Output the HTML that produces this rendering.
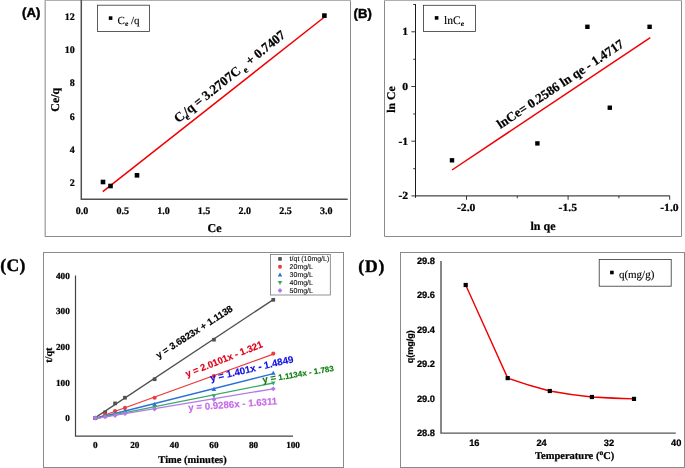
<!DOCTYPE html><html><head><meta charset="utf-8"><title>fig</title><style>html,body{margin:0;padding:0;background:#fff}svg{display:block;will-change:transform}text{text-rendering:geometricPrecision}.s{font-family:"Liberation Serif",serif}.a{font-family:"Liberation Sans",sans-serif}.b{font-weight:bold}</style></head><body>
<svg width="685" height="468" viewBox="0 0 685 468">
<rect width="685" height="468" fill="#fff"/>
<path d="M45.2 0V236.5" fill="none" stroke="#a0a0a0" stroke-width="1.3"/><path d="M45 236.5H350.5V0" fill="none" stroke="#8a8a8a" stroke-width="1"/>
<rect x="45" y="0" width="306" height="1" fill="#b0b0b0"/>
<text x="22.1" y="16.7" class="a b" font-size="13.1" text-anchor="start" fill="#000" stroke="#000" stroke-width="0.45">(A)</text>
<path d="M81.3 0V199.3H347.7" fill="none" stroke="#505050" stroke-width="1.5"/>
<text x="74.8" y="186.3" class="s b" font-size="10" text-anchor="end" fill="#000"  stroke="#000" stroke-width="0.24">2</text>
<text x="74.8" y="153.0" class="s b" font-size="10" text-anchor="end" fill="#000"  stroke="#000" stroke-width="0.24">4</text>
<text x="74.8" y="119.7" class="s b" font-size="10" text-anchor="end" fill="#000"  stroke="#000" stroke-width="0.24">6</text>
<text x="74.8" y="86.4" class="s b" font-size="10" text-anchor="end" fill="#000"  stroke="#000" stroke-width="0.24">8</text>
<text x="74.8" y="53.10000000000001" class="s b" font-size="10" text-anchor="end" fill="#000"  stroke="#000" stroke-width="0.24">10</text>
<text x="74.8" y="19.8" class="s b" font-size="10" text-anchor="end" fill="#000"  stroke="#000" stroke-width="0.24">12</text>
<text x="82.0" y="214.4" class="s b" font-size="10" text-anchor="middle" fill="#000"  stroke="#000" stroke-width="0.24">0.0</text>
<text x="122.7" y="214.4" class="s b" font-size="10" text-anchor="middle" fill="#000"  stroke="#000" stroke-width="0.24">0.5</text>
<text x="163.4" y="214.4" class="s b" font-size="10" text-anchor="middle" fill="#000"  stroke="#000" stroke-width="0.24">1.0</text>
<text x="204.10000000000002" y="214.4" class="s b" font-size="10" text-anchor="middle" fill="#000"  stroke="#000" stroke-width="0.24">1.5</text>
<text x="244.8" y="214.4" class="s b" font-size="10" text-anchor="middle" fill="#000"  stroke="#000" stroke-width="0.24">2.0</text>
<text x="285.5" y="214.4" class="s b" font-size="10" text-anchor="middle" fill="#000"  stroke="#000" stroke-width="0.24">2.5</text>
<text x="326.20000000000005" y="214.4" class="s b" font-size="10" text-anchor="middle" fill="#000"  stroke="#000" stroke-width="0.24">3.0</text>
<text x="214.6" y="231.5" class="s b" font-size="12" text-anchor="middle" fill="#000"  stroke="#000" stroke-width="0.24">Ce</text>
<text x="0" y="0" class="s b" font-size="11.9" text-anchor="middle" fill="#000" transform="translate(59.3,99.8) rotate(-90)" stroke="#000" stroke-width="0.24">Ce/q</text>
<rect x="97.5" y="5.2" width="52" height="26.2" fill="#fff" stroke="#333" stroke-width="0.8"/>
<rect x="108.80" y="16.30" width="3.6" height="3.6" fill="#000"/>
<text x="117.6" y="24.2" class="s" font-size="11" fill="#000" stroke="#000" stroke-width="0.12">C<tspan font-size="7.5" dy="1.8" font-weight="bold">e</tspan><tspan dy="-1.8" font-size="11"> /q</tspan></text>
<path d="M102.8 191.6L324.5 17" stroke="#f00000" stroke-width="1.5" fill="none"/>
<rect x="100.70" y="179.70" width="4.6" height="4.6" fill="#000"/>
<rect x="108.20" y="183.70" width="4.6" height="4.6" fill="#000"/>
<rect x="134.70" y="173.00" width="4.6" height="4.6" fill="#000"/>
<rect x="322.10" y="13.30" width="4.6" height="4.6" fill="#000"/>
<text class="s b" font-size="13.1" fill="#000" stroke="#000" stroke-width="0.24" word-spacing="-0.2" transform="translate(178.2,123.3) rotate(-38.8)">C<tspan font-size="9" dy="3.5" dx="-0.5">e</tspan><tspan dy="-3.5" dx="-1.5">/q = 3.2707C</tspan><tspan font-size="9" dy="3.5" dx="2.5">e</tspan><tspan dy="-3.5" dx="1"> + 0.7407</tspan></text>
<path d="M384.5 0V236.5H681.5V0" fill="none" stroke="#8a8a8a" stroke-width="1"/>
<rect x="384" y="0" width="298" height="1" fill="#b0b0b0"/>
<text x="353.6" y="17.6" class="a b" font-size="13.1" text-anchor="start" fill="#000" stroke="#000" stroke-width="0.45">(B)</text>
<path d="M415.5 4.2V197.8M415 195.9H669.9" fill="none" stroke="#1a1a1a" stroke-width="1"/>
<path d="M411.4 31.8H415.8" stroke="#222" stroke-width="0.9"/>
<text class="s b" font-size="10.9" text-anchor="end" fill="#000" stroke="#000" stroke-width="0.24" transform="translate(408.1,35.1) scale(1.07,1)">1</text>
<path d="M411.4 86.5H415.8" stroke="#222" stroke-width="0.9"/>
<text class="s b" font-size="10.9" text-anchor="end" fill="#000" stroke="#000" stroke-width="0.24" transform="translate(408.1,89.8) scale(1.07,1)">0</text>
<path d="M411.4 141.2H415.8" stroke="#222" stroke-width="0.9"/>
<text class="s b" font-size="10.9" text-anchor="end" fill="#000" stroke="#000" stroke-width="0.24" transform="translate(408.1,144.5) scale(1.07,1)">-1</text>
<path d="M411.4 195.9H415.8" stroke="#222" stroke-width="0.9"/>
<text class="s b" font-size="10.9" text-anchor="end" fill="#000" stroke="#000" stroke-width="0.24" transform="translate(408.1,199.2) scale(1.07,1)">-2</text>
<path d="M413.2 4.5H415.8" stroke="#222" stroke-width="0.9"/>
<path d="M413.2 59.3H415.8" stroke="#222" stroke-width="0.9"/>
<path d="M413.2 114H415.8" stroke="#222" stroke-width="0.9"/>
<path d="M413.2 168.7H415.8" stroke="#222" stroke-width="0.9"/>
<path d="M466.5 195.9V199.8" stroke="#222" stroke-width="0.9"/>
<text class="s b" font-size="10.9" text-anchor="middle" fill="#000" stroke="#000" stroke-width="0.24" transform="translate(466.2,210.8) scale(1.07,1)">-2.0</text>
<path d="M568.1 195.9V199.8" stroke="#222" stroke-width="0.9"/>
<text class="s b" font-size="10.9" text-anchor="middle" fill="#000" stroke="#000" stroke-width="0.24" transform="translate(567.8,210.8) scale(1.07,1)">-1.5</text>
<path d="M669.7 195.9V199.8" stroke="#222" stroke-width="0.9"/>
<text class="s b" font-size="10.9" text-anchor="middle" fill="#000" stroke="#000" stroke-width="0.24" transform="translate(669.4,210.8) scale(1.07,1)">-1.0</text>
<path d="M517.3 195.9V198.3" stroke="#222" stroke-width="0.9"/>
<path d="M618.9 195.9V198.3" stroke="#222" stroke-width="0.9"/>
<text x="543" y="230" class="s b" font-size="12" text-anchor="middle" fill="#000"  stroke="#000" stroke-width="0.24">ln qe</text>
<text x="0" y="0" class="s b" font-size="11.8" text-anchor="middle" fill="#000" transform="translate(394.8,99.5) rotate(-90)" stroke="#000" stroke-width="0.24">ln Ce</text>
<rect x="423.5" y="5.3" width="52" height="26.2" fill="#fff" stroke="#333" stroke-width="0.8"/>
<rect x="434.80" y="16.10" width="3.6" height="3.6" fill="#000"/>
<text x="444" y="23.8" class="s" font-size="11.5" fill="#000" stroke="#000" stroke-width="0.12">lnC<tspan font-size="7.5" dy="1.8" font-weight="bold">e</tspan></text>
<path d="M452 170L650.3 37.6" stroke="#f00000" stroke-width="1.5" fill="none"/>
<rect x="449.80" y="158.10" width="4.4" height="4.4" fill="#000"/>
<rect x="535.20" y="141.20" width="4.4" height="4.4" fill="#000"/>
<rect x="607.60" y="105.50" width="4.4" height="4.4" fill="#000"/>
<rect x="585.20" y="24.60" width="4.4" height="4.4" fill="#000"/>
<rect x="647.40" y="24.60" width="4.4" height="4.4" fill="#000"/>
<text class="s b" font-size="13" fill="#000" stroke="#000" stroke-width="0.24" transform="translate(500.5,129) rotate(-33.7)">lnCe= 0.2586 ln qe - 1.4717</text>
<rect x="43.5" y="252.5" width="300" height="215" fill="none" stroke="#8a8a8a" stroke-width="1"/>
<text x="0.3" y="270.6" class="s b" font-size="17.6" text-anchor="start" fill="#000" stroke="#000" stroke-width="0.4" letter-spacing="0.3">(C)</text>
<path d="M75.5 275.6V436.1H293" fill="none" stroke="#444" stroke-width="1.2"/>
<text x="69.8" y="421.1" class="s b" font-size="9.2" text-anchor="end" fill="#000"  stroke="#000" stroke-width="0.24">0</text>
<text x="69.8" y="385.5" class="s b" font-size="9.2" text-anchor="end" fill="#000"  stroke="#000" stroke-width="0.24">100</text>
<text x="69.8" y="349.90000000000003" class="s b" font-size="9.2" text-anchor="end" fill="#000"  stroke="#000" stroke-width="0.24">200</text>
<text x="69.8" y="314.3" class="s b" font-size="9.2" text-anchor="end" fill="#000"  stroke="#000" stroke-width="0.24">300</text>
<text x="69.8" y="278.70000000000005" class="s b" font-size="9.2" text-anchor="end" fill="#000"  stroke="#000" stroke-width="0.24">400</text>
<text x="95.3" y="448" class="s b" font-size="9.2" text-anchor="middle" fill="#000"  stroke="#000" stroke-width="0.24">0</text>
<text x="134.85" y="448" class="s b" font-size="9.2" text-anchor="middle" fill="#000"  stroke="#000" stroke-width="0.24">20</text>
<text x="174.39999999999998" y="448" class="s b" font-size="9.2" text-anchor="middle" fill="#000"  stroke="#000" stroke-width="0.24">40</text>
<text x="213.95" y="448" class="s b" font-size="9.2" text-anchor="middle" fill="#000"  stroke="#000" stroke-width="0.24">60</text>
<text x="253.5" y="448" class="s b" font-size="9.2" text-anchor="middle" fill="#000"  stroke="#000" stroke-width="0.24">80</text>
<text x="293.05" y="448" class="s b" font-size="9.2" text-anchor="middle" fill="#000"  stroke="#000" stroke-width="0.24">100</text>
<text x="192.5" y="462.5" class="s b" font-size="10.5" text-anchor="middle" fill="#000"  stroke="#000" stroke-width="0.24">Time (minutes)</text>
<text x="0" y="0" class="s b" font-size="10.2" text-anchor="middle" fill="#000" transform="translate(52.3,355.2) rotate(-90)" stroke="#000" stroke-width="0.24">t/qt</text>
<path d="M95.3 417.6L273.3 299.6" stroke="#505050" stroke-width="1.3" fill="none"/>
<rect x="93.45" y="416.15" width="3.7" height="3.7" fill="#505050"/>
<rect x="103.34" y="410.45" width="3.7" height="3.7" fill="#505050"/>
<rect x="113.22" y="401.55" width="3.7" height="3.7" fill="#505050"/>
<rect x="123.11" y="395.86" width="3.7" height="3.7" fill="#505050"/>
<rect x="152.78" y="377.35" width="3.7" height="3.7" fill="#505050"/>
<rect x="212.10" y="337.83" width="3.7" height="3.7" fill="#505050"/>
<rect x="271.42" y="297.96" width="3.7" height="3.7" fill="#505050"/>
<path d="M95.3 418.5L273.3 354.1" stroke="#ee3b3b" stroke-width="1.3" fill="none"/>
<circle cx="95.3" cy="418.0" r="2.05" fill="#ee3b3b"/>
<circle cx="105.2" cy="414.4" r="2.05" fill="#ee3b3b"/>
<circle cx="115.1" cy="411.1" r="2.05" fill="#ee3b3b"/>
<circle cx="125.0" cy="407.9" r="2.05" fill="#ee3b3b"/>
<circle cx="154.6" cy="397.7" r="2.05" fill="#ee3b3b"/>
<circle cx="213.9" cy="376.0" r="2.05" fill="#ee3b3b"/>
<circle cx="273.3" cy="353.6" r="2.05" fill="#ee3b3b"/>
<path d="M95.3 418.5L273.3 373.6" stroke="#2a6fdb" stroke-width="1.3" fill="none"/>
<path d="M93.0 419.7L97.6 419.7L95.3 415.6Z" fill="#2a6fdb"/>
<path d="M102.9 417.6L107.5 417.6L105.2 413.5Z" fill="#2a6fdb"/>
<path d="M112.8 415.1L117.4 415.1L115.1 411.0Z" fill="#2a6fdb"/>
<path d="M122.7 412.6L127.3 412.6L125.0 408.5Z" fill="#2a6fdb"/>
<path d="M152.3 406.2L156.9 406.2L154.6 402.1Z" fill="#2a6fdb"/>
<path d="M211.6 390.9L216.2 390.9L213.9 386.8Z" fill="#2a6fdb"/>
<path d="M271.0 374.8L275.6 374.8L273.3 370.7Z" fill="#2a6fdb"/>
<path d="M95.3 418.6L273.3 383.0" stroke="#3aa866" stroke-width="1.3" fill="none"/>
<path d="M93.0 416.3L97.6 416.3L95.3 420.4Z" fill="#3aa866"/>
<path d="M102.9 414.9L107.5 414.9L105.2 419.0Z" fill="#3aa866"/>
<path d="M112.8 413.1L117.4 413.1L115.1 417.2Z" fill="#3aa866"/>
<path d="M122.7 411.0L127.3 411.0L125.0 415.1Z" fill="#3aa866"/>
<path d="M152.3 405.6L156.9 405.6L154.6 409.7Z" fill="#3aa866"/>
<path d="M211.6 394.2L216.2 394.2L213.9 398.3Z" fill="#3aa866"/>
<path d="M271.0 381.4L275.6 381.4L273.3 385.5Z" fill="#3aa866"/>
<path d="M95.3 418.6L273.3 388.8" stroke="#b478e6" stroke-width="1.3" fill="none"/>
<path d="M92.9 418.0L95.3 415.6L97.7 418.0L95.3 420.4Z" fill="#b478e6"/>
<path d="M102.8 416.9L105.2 414.5L107.6 416.9L105.2 419.3Z" fill="#b478e6"/>
<path d="M112.7 415.5L115.1 413.1L117.5 415.5L115.1 417.9Z" fill="#b478e6"/>
<path d="M122.6 413.7L125.0 411.3L127.4 413.7L125.0 416.1Z" fill="#b478e6"/>
<path d="M152.2 409.1L154.6 406.7L157.0 409.1L154.6 411.5Z" fill="#b478e6"/>
<path d="M211.5 399.5L213.9 397.1L216.3 399.5L213.9 401.9Z" fill="#b478e6"/>
<path d="M270.9 388.8L273.3 386.4L275.7 388.8L273.3 391.2Z" fill="#b478e6"/>
<rect x="270.5" y="254.4" width="59.8" height="40.6" fill="#fff" stroke="#777" stroke-width="0.8"/>
<rect x="278.20" y="257.10" width="3.6" height="3.6" fill="#505050"/>
<text x="289.6" y="261.4" class="a" font-size="7" text-anchor="start" fill="#111"  stroke="#111" stroke-width="0.12">t/qt (10mg/L)</text>
<circle cx="280" cy="266.8" r="2" fill="#ee3b3b"/>
<text x="289.6" y="269.29999999999995" class="a" font-size="7" text-anchor="start" fill="#111"  stroke="#111" stroke-width="0.12">20mg/L</text>
<path d="M277.7 276.4L282.3 276.4L280.0 272.4Z" fill="#2a6fdb"/>
<text x="289.6" y="277.2" class="a" font-size="7" text-anchor="start" fill="#111"  stroke="#111" stroke-width="0.12">30mg/L</text>
<path d="M277.7 280.9L282.3 280.9L280.0 284.9Z" fill="#3aa866"/>
<text x="289.6" y="285.09999999999997" class="a" font-size="7" text-anchor="start" fill="#111"  stroke="#111" stroke-width="0.12">40mg/L</text>
<path d="M277.6 290.5L280.0 288.1L282.4 290.5L280.0 292.9Z" fill="#b478e6"/>
<text x="289.6" y="293.0" class="a" font-size="7" text-anchor="start" fill="#111"  stroke="#111" stroke-width="0.12">50mg/L</text>
<text class="a b" font-size="9.45" fill="#000" stroke="#000" stroke-width="0.15" transform="translate(158.5,358.7) rotate(-32.8)">y = 3.6823x + 1.1138</text>
<text class="a b" font-size="9.45" fill="#e00018" stroke="#e00018" stroke-width="0.15" transform="translate(187,377.3) rotate(-21.8)">y = 2.0101x - 1.321</text>
<text class="a b" font-size="9.8" fill="#1010e0" stroke="#1010e0" stroke-width="0.15" transform="translate(211,381.6) rotate(-13.2)">y = 1.401x - 1.4849</text>
<text class="a b" font-size="8.1" fill="#108010" stroke="#108010" stroke-width="0.15" transform="translate(263.1,382.9) rotate(-9.5)"><tspan font-size="9.6">y =</tspan> 1.1134x - 1.783</text>
<text class="a b" font-size="9.7" fill="#c868e8" stroke="#c868e8" stroke-width="0.15" transform="translate(188.5,410.9) rotate(-4.2)">y = 0.9286x - 1.6311</text>
<rect x="400.5" y="252.5" width="284" height="215" fill="none" stroke="#8a8a8a" stroke-width="1"/>
<text x="358.3" y="272.4" class="s b" font-size="17.6" text-anchor="start" fill="#000" stroke="#000" stroke-width="0.4" letter-spacing="0.8">(D)</text>
<path d="M441 261V433.1H675.8" fill="none" stroke="#555" stroke-width="1.4"/>
<text x="435" y="263.9" class="a b" font-size="9.3" text-anchor="end" fill="#000"  stroke="#000" stroke-width="0.24">29.8</text>
<text x="435" y="298.29999999999995" class="a b" font-size="9.3" text-anchor="end" fill="#000"  stroke="#000" stroke-width="0.24">29.6</text>
<text x="435" y="332.7" class="a b" font-size="9.3" text-anchor="end" fill="#000"  stroke="#000" stroke-width="0.24">29.4</text>
<text x="435" y="367.09999999999997" class="a b" font-size="9.3" text-anchor="end" fill="#000"  stroke="#000" stroke-width="0.24">29.2</text>
<text x="435" y="401.5" class="a b" font-size="9.3" text-anchor="end" fill="#000"  stroke="#000" stroke-width="0.24">29.0</text>
<text x="435" y="435.9" class="a b" font-size="9.3" text-anchor="end" fill="#000"  stroke="#000" stroke-width="0.24">28.8</text>
<text x="474.3" y="446.2" class="a b" font-size="9.3" text-anchor="middle" fill="#000"  stroke="#000" stroke-width="0.24">16</text>
<text x="541.6" y="446.2" class="a b" font-size="9.3" text-anchor="middle" fill="#000"  stroke="#000" stroke-width="0.24">24</text>
<text x="608.9" y="446.2" class="a b" font-size="9.3" text-anchor="middle" fill="#000"  stroke="#000" stroke-width="0.24">32</text>
<text x="676.2" y="446.2" class="a b" font-size="9.3" text-anchor="middle" fill="#000"  stroke="#000" stroke-width="0.24">40</text>
<text x="574.6" y="459" class="s b" font-size="10.5" text-anchor="middle" fill="#000"  stroke="#000" stroke-width="0.24">Temperature (<tspan font-size="7.5" dy="-4">o</tspan><tspan dy="4">C)</tspan></text>
<text x="0" y="0" class="a b" font-size="9.0" text-anchor="middle" fill="#000" transform="translate(413.2,346.7) rotate(-90)" stroke="#000" stroke-width="0.24">q(mg/g)</text>
<rect x="599.2" y="259.5" width="72" height="26.7" fill="#fff" stroke="#333" stroke-width="0.8"/>
<rect x="610.10" y="270.70" width="3.6" height="3.6" fill="#000"/>
<text x="618.9" y="278.3" class="s" font-size="11" text-anchor="start" fill="#000"  stroke="#000" stroke-width="0.12">q(mg/g)</text>
<path d="M465.7 285L507.7 378.1Q528.7 385.6 549.8 391Q570.8 394.9 591.9 397Q613 398.3 634 398.9" stroke="#f00000" stroke-width="1.4" fill="none"/>
<rect x="463.60" y="282.90" width="4.2" height="4.2" fill="#000"/>
<rect x="505.60" y="376.00" width="4.2" height="4.2" fill="#000"/>
<rect x="547.70" y="388.90" width="4.2" height="4.2" fill="#000"/>
<rect x="589.80" y="394.90" width="4.2" height="4.2" fill="#000"/>
<rect x="631.90" y="396.80" width="4.2" height="4.2" fill="#000"/>
</svg></body></html>
